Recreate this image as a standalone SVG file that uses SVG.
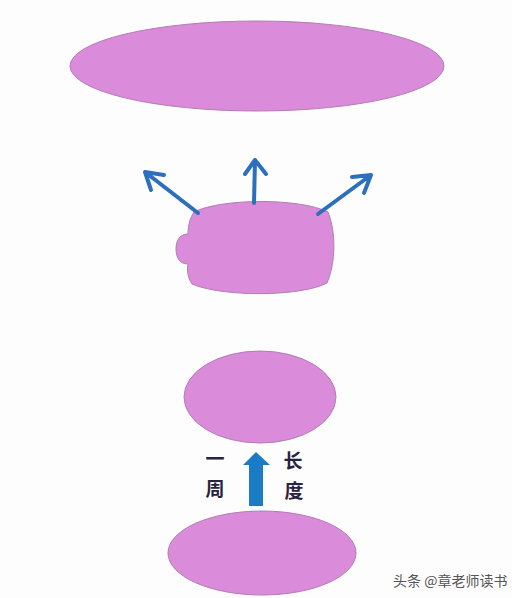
<svg xmlns="http://www.w3.org/2000/svg" width="512" height="598" viewBox="0 0 512 598">
<style>
.node{fill:#da8bda;stroke:#b27db4;stroke-width:1}
.arr{stroke:#2b6fbd;stroke-width:4;fill:none;stroke-linecap:round;stroke-linejoin:round}
.lbl{font-family:"Noto Sans CJK SC","Noto Sans",sans-serif;font-size:19px;font-weight:bold;fill:#2a2340;text-anchor:middle}
.wm{font-family:"Noto Sans CJK SC","Noto Sans",sans-serif;font-size:14px;fill:#555;}
</style>
<rect width="512" height="598" fill="#fdfdfe"/>
<g id="top"><ellipse class="node" cx="257" cy="66" rx="187" ry="45"/></g>
<g id="middle"><path class="node" stroke="none" d="M194,212 C222,198 300,198 328,212 C336,232 336,262 327,283 C300,297 222,297 192,284 C187,277 187,268 188,264 C180,264 176,258 176,249 C176,240 180,234 188,234 C188,225 190,218 194,212 Z"/></g>
<g id="lower"><ellipse class="node" cx="260" cy="397" rx="76" ry="46"/></g>
<g id="bottom"><ellipse class="node" cx="262" cy="553" rx="94" ry="42"/></g>
<g id="connectors">
<path class="arr" d="M198,213 L145,172 M145,172 L164,175 M145,172 L151,190"/>
<path class="arr" d="M254,203 L255,160 M255,160 L245,174 M255,160 L266,174"/>
<path class="arr" d="M318,214 L371,175 M371,175 L352,177 M371,175 L364,193"/>
<path fill="#1a7cc4" d="M249,506 L249,465 L243,465 L256,452 L270,465 L263,465 L263,506 Z"/>
</g>
<g id="labels">
<text class="lbl" x="215" y="466">一</text>
<text class="lbl" x="215" y="496">周</text>
<text class="lbl" x="293" y="468">长</text>
<text class="lbl" x="294" y="498">度</text>
</g>
<text class="wm" x="393" y="586">头条 @章老师读书</text>
</svg>
